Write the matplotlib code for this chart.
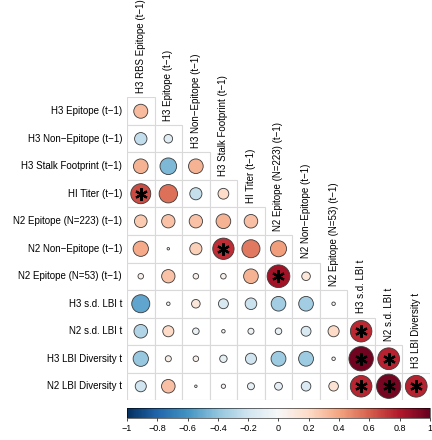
import numpy as np
import matplotlib
matplotlib.use("Agg")
import matplotlib.pyplot as plt
from matplotlib.patches import Circle, Rectangle
from matplotlib.colors import Normalize
from matplotlib.cm import ScalarMappable

plt.rcParams['font.family'] = ['Liberation Sans', 'DejaVu Sans']

# --- data (lower triangle, row i has i+1 values) ---
row_labels = ["H3 Epitope (t\u22121)", "H3 Non\u2212Epitope (t\u22121)", "H3 Stalk Footprint (t\u22121)",
              "HI Titer (t\u22121)", "N2 Epitope (N=223) (t\u22121)", "N2 Non\u2212Epitope (t\u22121)",
              "N2 Epitope (N=53) (t\u22121)", "H3 s.d. LBI t", "N2 s.d. LBI t",
              "H3 LBI Diversity t", "N2 LBI Diversity t"]
col_labels = ["H3 RBS Epitope (t\u22121)", "H3 Epitope (t\u22121)", "H3 Non\u2212Epitope (t\u22121)",
              "H3 Stalk Footprint (t\u22121)", "HI Titer (t\u22121)", "N2 Epitope (N=223) (t\u22121)",
              "N2 Non\u2212Epitope (t\u22121)", "N2 Epitope (N=53) (t\u22121)", "H3 s.d. LBI t",
              "N2 s.d. LBI t", "H3 LBI Diversity t"]
corr_rows = [
    [0.32],
    [-0.25, -0.12],
    [0.35, -0.45, 0.35],
    [0.65, 0.55, -0.24, 0.19],
    [0.26, 0.29, 0.29, 0.35, 0.30],
    [0.38, 0.01, 0.24, 0.74, 0.53, 0.42],
    [0.05, 0.29, 0.05, 0.05, 0.35, 0.84, 0.12],
    [-0.53, 0.02, 0.12, -0.16, -0.22, -0.35, -0.35, 0.02],
    [-0.30, 0.20, -0.07, 0.02, -0.06, -0.07, -0.16, 0.20, 0.75],
    [-0.38, 0.06, 0.05, -0.09, -0.20, -0.36, -0.36, 0.02, 0.97, 0.77],
    [-0.20, 0.30, 0.01, 0.03, -0.08, -0.10, -0.15, 0.15, 0.76, 0.96, 0.77],
]
significant = [(3, 0), (5, 3), (6, 5), (8, 8), (9, 8), (9, 9), (10, 8), (10, 9), (10, 10)]
cbar_ticks = [-1, -0.8, -0.6, -0.4, -0.2, 0, 0.2, 0.4, 0.6, 0.8, 1]

cmap = plt.get_cmap("RdBu_r")
norm = Normalize(-1, 1)
n = len(row_labels)

fig = plt.figure(figsize=(4.32, 4.40), dpi=100)
ax = fig.add_axes([127 / 432, 40 / 440, 303 / 432, 302.5 / 440])
ax.set_xlim(-0.5, n - 0.5)
ax.set_ylim(n - 0.5, -0.5)
ax.axis("off")

# grid cells of the lower triangle
for i, row in enumerate(corr_rows):
    for j, r in enumerate(row):
        ax.add_patch(Rectangle((j - 0.5, i - 0.5), 1, 1, facecolor="white",
                               edgecolor="#d9d9d9", lw=0.8, zorder=1))
# circles: area ~ |r|
for i, row in enumerate(corr_rows):
    for j, r in enumerate(row):
        rad = 0.45 * np.sqrt(abs(r))
        ax.add_patch(Circle((j, i), rad, facecolor=cmap(norm(r)),
                            edgecolor="#3a3a3a", lw=0.6, zorder=2))

for i, j in significant:
    ax.plot(j, i, marker=(6, 2, 0), color="black", markersize=9, mew=1.6, zorder=3)

for i, lab in enumerate(row_labels):
    ax.text(-0.68, i, lab, ha="right", va="center", fontsize=7, clip_on=False)
for j, lab in enumerate(col_labels):
    ax.text(j, j - 0.66, lab, ha="center", va="bottom", rotation=90, fontsize=7, clip_on=False)

# colour bar
cax = fig.add_axes([127 / 432, 22 / 440, 303 / 432, 10 / 440])
sm = ScalarMappable(norm=norm, cmap=cmap)
cb = fig.colorbar(sm, cax=cax, orientation="horizontal")
cb.outline.set_linewidth(0.4)
cb.set_ticks(cbar_ticks)
cb.set_ticklabels([f"{t:g}".replace("-", "\u2212") for t in cbar_ticks])
cax.tick_params(labelsize=6.5, length=2, width=0.5, pad=2)

fig.savefig("out.png", dpi=100)
